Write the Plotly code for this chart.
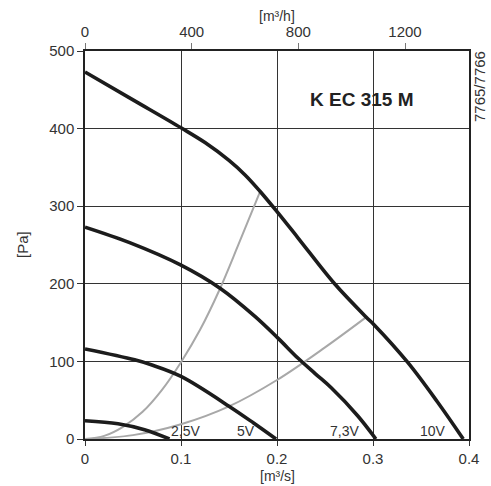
import plotly.graph_objects as go

# Fan curves (flow m3/s, pressure Pa)
x_10v = [0.0, 0.05, 0.1, 0.125, 0.15, 0.167, 0.1825, 0.2, 0.222, 0.26, 0.293, 0.3013, 0.336, 0.367, 0.394]
y_10v = [473, 437, 401, 382, 359, 340, 319, 293, 259, 200, 157, 147, 99, 48, 0]

x_73v = [0.0, 0.0465, 0.1, 0.141, 0.177, 0.201, 0.222, 0.24, 0.2565, 0.284, 0.303]
y_73v = [273, 253, 224, 194, 158, 130, 104, 84, 66, 30, 0]

x_5v = [0.0, 0.0517, 0.069, 0.1, 0.1515, 0.1756, 0.199]
y_5v = [116, 102, 95.6, 80.6, 41, 20.6, 0]

x_25v = [0.0, 0.0344, 0.062, 0.088]
y_25v = [23.5, 19.7, 12, 0]

# System curves
x_sys1 = [0.0, 0.02, 0.04, 0.06, 0.08, 0.1, 0.12, 0.14, 0.16, 0.1825]
y_sys1 = [0, 4, 16, 35, 63, 99, 141, 192, 251, 319]
x_sys2 = [0.0, 0.05, 0.1, 0.15, 0.2, 0.25, 0.293]
y_sys2 = [0, 5, 19, 42, 76, 118, 157]

curve_labels = ["2,5V", "5V", "7,3V", "10V"]
label_x = [0.1044, 0.1672, 0.270, 0.362]

x_ticks = [0, 0.1, 0.2, 0.3, 0.4]
x_ticktext = ["0", "0.1", "0.2", "0.3", "0.4"]
y_ticks = [0, 100, 200, 300, 400, 500]
top_ticks = [0, 400, 800, 1200]

fig = go.Figure()

gray = "#a8a8a8"
black = "#1c1c1c"
for xs, ys in [(x_sys1, y_sys1), (x_sys2, y_sys2)]:
    fig.add_trace(go.Scatter(x=xs, y=ys, mode="lines",
                             line=dict(color=gray, width=2, shape="spline", smoothing=1),
                             showlegend=False, hoverinfo="skip"))
for xs, ys in [(x_25v, y_25v), (x_5v, y_5v), (x_73v, y_73v), (x_10v, y_10v)]:
    fig.add_trace(go.Scatter(x=xs, y=ys, mode="lines",
                             line=dict(color=black, width=3.6, shape="spline", smoothing=1),
                             showlegend=False, hoverinfo="skip"))

# invisible trace for top axis
fig.add_trace(go.Scatter(x=[0, 1440], y=[0, 0], xaxis="x2", mode="lines",
                         line=dict(width=0), opacity=0, showlegend=False,
                         hoverinfo="skip"))

fam = "Liberation Sans, Arial, sans-serif"
font = dict(family=fam, size=15, color="#333333")

for lab, lx in zip(curve_labels, label_x):
    fig.add_annotation(x=lx, y=0, text=lab, showarrow=False, xanchor="center",
                       yanchor="bottom", yshift=-2, font=dict(family=fam, size=14, color="#333333"))

fig.add_annotation(x=0.288, y=438, text="<b>K EC 315 M</b>", showarrow=False,
                   font=dict(family=fam, size=19, color="#222222"))
fig.add_annotation(xref="paper", yref="paper", x=1, y=1, text="7765/7766",
                   textangle=-90, showarrow=False, xanchor="left", yanchor="top",
                   xshift=0, yshift=2, font=dict(family=fam, size=15, color="#333333"))
fig.add_annotation(xref="paper", yref="paper", x=0.5, y=0, text="[m³/s]",
                   showarrow=False, yanchor="middle", yshift=-37, font=dict(family=fam, size=14, color="#333333"))
fig.add_annotation(xref="paper", yref="paper", x=0.5, y=1, text="[m³/h]",
                   showarrow=False, yanchor="middle", yshift=35, font=dict(family=fam, size=14, color="#333333"))
fig.add_annotation(xref="paper", yref="paper", x=0, y=0.5, text="[Pa]",
                   textangle=-90, showarrow=False, xanchor="center", xshift=-63, font=font)

fig.update_layout(
    width=491, height=486,
    margin=dict(l=85, r=18, t=51, b=47),
    paper_bgcolor="white", plot_bgcolor="white",
    font=font,
    xaxis=dict(range=[0, 0.4], tickvals=x_ticks, ticktext=x_ticktext,
               showgrid=True, gridcolor="#333333", gridwidth=1,
               zeroline=False, showline=True, linecolor="#222222", linewidth=1.5,
               mirror=False, ticks="outside", ticklen=5, tickcolor="#333333",
               fixedrange=True),
    xaxis2=dict(range=[0, 1440], tickvals=top_ticks, overlaying="x", side="top",
                showgrid=False, zeroline=False, showline=True, linecolor="#222222",
                linewidth=1.5, ticks="outside", ticklen=6, tickcolor="#777777",
                anchor="y"),
    yaxis=dict(range=[0, 500], tickvals=y_ticks, showgrid=True, gridcolor="#333333",
               gridwidth=1, zeroline=False, showline=True, linecolor="#222222",
               linewidth=1.5, mirror=True, ticks="outside", ticklen=6,
               tickcolor="#333333"),
)

fig.write_html("out.html")
